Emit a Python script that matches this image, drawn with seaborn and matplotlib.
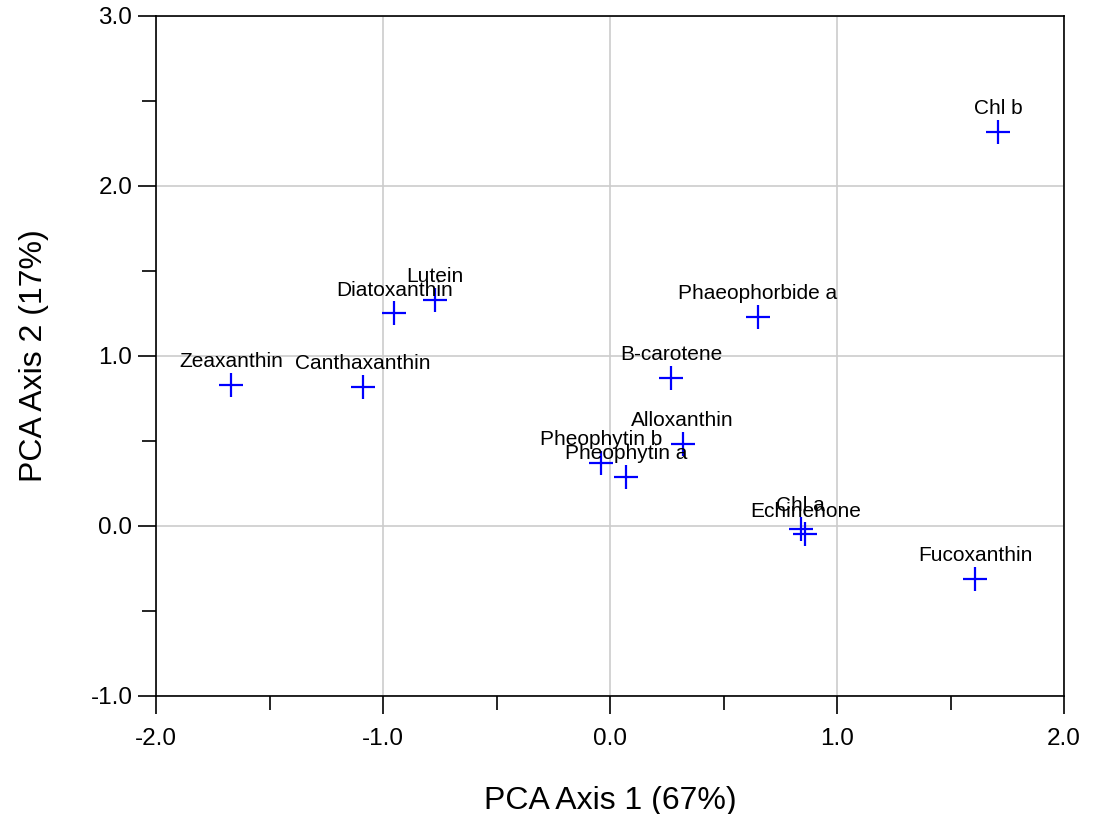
import matplotlib
matplotlib.use("Agg")
import matplotlib.pyplot as plt
import seaborn as sns
import pandas as pd
from matplotlib.ticker import MultipleLocator, FormatStrFormatter

# Pigment loadings on the first two principal components
pigments = ["Chl b", "Lutein", "Diatoxanthin", "Phaeophorbide a", "Zeaxanthin",
            "Canthaxanthin", "B-carotene", "Alloxanthin", "Pheophytin b",
            "Pheophytin a", "Chl a", "Echinenone", "Fucoxanthin"]
axis1 = [1.71, -0.77, -0.95, 0.65, -1.67, -1.09, 0.27, 0.32, -0.04, 0.07, 0.84, 0.86, 1.61]
axis2 = [2.32, 1.33, 1.25, 1.23, 0.83, 0.82, 0.87, 0.48, 0.37, 0.29, -0.02, -0.05, -0.31]

df = pd.DataFrame({"pigment": pigments, "ax1": axis1, "ax2": axis2})

sns.set_theme(style="ticks")
plt.rcParams["font.family"] = ["Liberation Sans", "DejaVu Sans"]

fig = plt.figure(figsize=(10.94, 8.14), dpi=100)
ax = fig.add_axes([0.1426, 0.145, 0.83, 0.8354])

sns.scatterplot(data=df, x="ax1", y="ax2", marker="+", s=300, color="#0000ff",
                linewidth=1.6, ax=ax, zorder=3, legend=False)

for name, x, y in zip(pigments, axis1, axis2):
    ax.annotate(name, (x, y), xytext=(0, 10), textcoords="offset points",
                ha="center", va="bottom", fontsize=15, color="black", zorder=4)

ax.set_xlim(-2.0, 2.0)
ax.set_ylim(-1.0, 3.0)
ax.xaxis.set_major_locator(MultipleLocator(1.0))
ax.xaxis.set_minor_locator(MultipleLocator(0.5))
ax.yaxis.set_major_locator(MultipleLocator(1.0))
ax.yaxis.set_minor_locator(MultipleLocator(0.5))
ax.xaxis.set_major_formatter(FormatStrFormatter("%.1f"))
ax.yaxis.set_major_formatter(FormatStrFormatter("%.1f"))
ax.tick_params(which="major", direction="out", length=13, width=1.2, colors="black",
               labelcolor="black", labelsize=17.5, pad=4)
ax.tick_params(axis="x", which="major", pad=10)
ax.tick_params(which="minor", direction="out", length=10, width=1.2, colors="black")

ax.grid(True, which="major", color="#cccccc", linewidth=1.2, zorder=0)
ax.set_axisbelow(True)
for s in ax.spines.values():
    s.set_visible(True)
    s.set_color("black")
    s.set_linewidth(1.2)

ax.set_xlabel("PCA Axis 1 (67%)", fontsize=23, labelpad=26, color="black")
ax.set_ylabel("PCA Axis 2 (17%)", fontsize=23, labelpad=30, color="black")

fig.savefig("out.png", dpi=100)
